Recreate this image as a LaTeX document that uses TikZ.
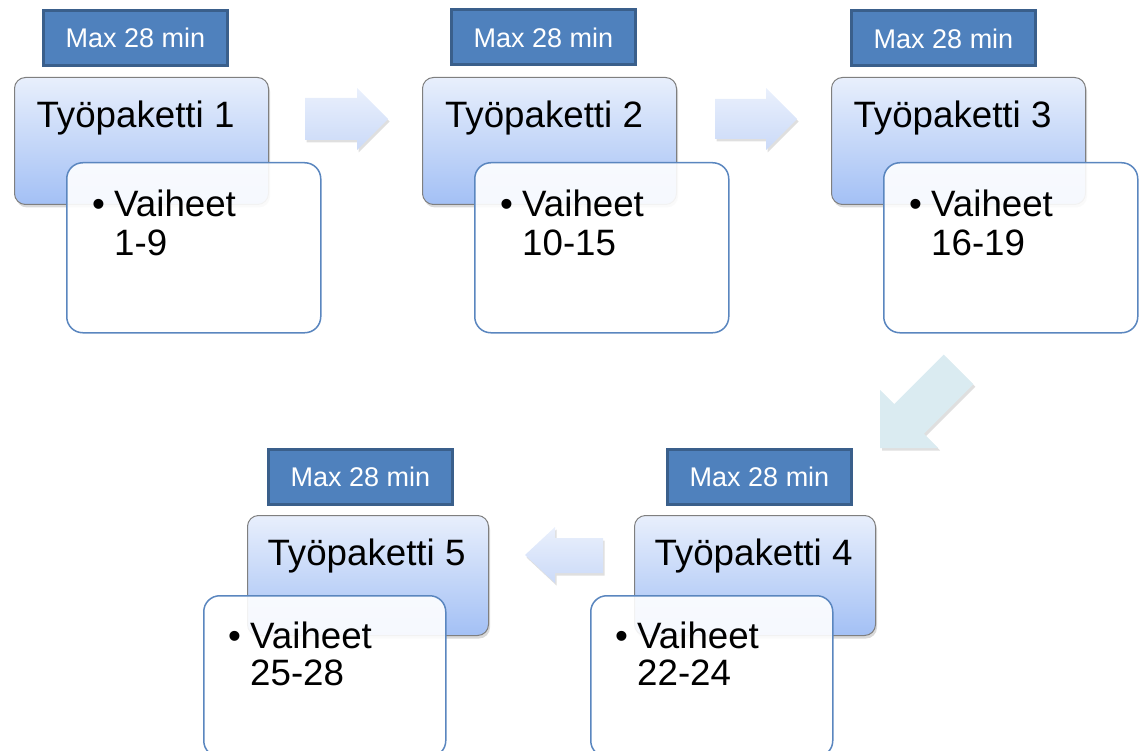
\documentclass[tikz,border=0pt]{standalone}
\usepackage{fontspec}
\setmainfont{Liberation Sans}
\usetikzlibrary{shadows}
\definecolor{maxfill}{HTML}{4F81BD}
\definecolor{maxline}{HTML}{3A5F8B}
\definecolor{titletop}{HTML}{E8EFFC}
\definecolor{titlebot}{HTML}{A3C0F5}
\definecolor{titleline}{HTML}{7F7F7F}
\definecolor{textline}{HTML}{5A86BF}
\definecolor{arrtop}{HTML}{EAF0FC}
\definecolor{arrbot}{HTML}{CBDAF8}
\definecolor{diagfill}{HTML}{DAEBF1}
\tikzset{
  maxbox/.style={draw=maxline, line width=3pt, fill=maxfill, text=white,
    minimum width=184pt, minimum height=55pt, inner sep=0pt,
    font=\fontsize{27}{32}\selectfont},
  titlebox/.style={draw=titleline, line width=1pt, rounded corners=11pt,
    top color=titletop, bottom color=titlebot, inner sep=0pt,
    drop shadow={shadow xshift=1.5pt, shadow yshift=-3pt, opacity=0.3}},
  wideT/.style={minimum width=254pt, minimum height=127pt},
  narrowT/.style={minimum width=241pt, minimum height=120pt},
  textbox/.style={draw=textline, line width=1.5pt, rounded corners=16pt,
    fill=white, fill opacity=0.9, inner sep=0pt},
  wideB/.style={minimum width=254pt, minimum height=170pt},
  narrowB/.style={minimum width=242pt, minimum height=161pt},
  titletext/.style={anchor=base, inner sep=0pt, font=\fontsize{36.7}{44}\selectfont},
  itemtext/.style={anchor=base west, inner sep=0pt, font=\fontsize{36.7}{44}\selectfont},
  blockarrow/.style={top color=arrtop, bottom color=arrbot, draw=none,
    drop shadow={shadow xshift=1.5pt, shadow yshift=-2.5pt, opacity=0.25}},
  diagarrow/.style={fill=diagfill, draw=none,
    drop shadow={shadow xshift=2pt, shadow yshift=-2.5pt, opacity=0.25}}
}
\begin{document}
\begin{tikzpicture}[x=1pt,y=-1pt]
\useasboundingbox (0,0) rectangle (1139,751);

% ---------- Block 1 ----------
\node[maxbox] (m1) at (135.5,38) {Max 28 min};
\node[titlebox, wideT, anchor=north west] (t1) at (14,77) {};
\node[titletext] (tt1) at (135.5,128) {Työpaketti 1};
\node[textbox, wideB, anchor=north west] (b1) at (66,162) {};
\node[itemtext] (p1) at (92,217) {•};
\node[itemtext] (v1) at (114,217) {Vaiheet};
\node[itemtext] (r1) at (114,255) {1-9};

% ---------- Block 2 ----------
\node[maxbox] (m2) at (543.5,37.5) {Max 28 min};
\node[titlebox, wideT, anchor=north west] (t2) at (422,77) {};
\node[titletext] (tt2) at (544,128) {Työpaketti 2};
\node[textbox, wideB, anchor=north west] (b2) at (474,162) {};
\node[itemtext] (p2) at (500,217) {•};
\node[itemtext] (v2) at (522,217) {Vaiheet};
\node[itemtext] (r2) at (522,255) {10-15};

% ---------- Block 3 ----------
\node[maxbox] (m3) at (943.5,38.5) {Max 28 min};
\node[titlebox, wideT, anchor=north west] (t3) at (831,77) {};
\node[titletext] (tt3) at (952.5,128) {Työpaketti 3};
\node[textbox, wideB, anchor=north west] (b3) at (883,162) {};
\node[itemtext] (p3) at (909,217) {•};
\node[itemtext] (v3) at (931,217) {Vaiheet};
\node[itemtext] (r3) at (931,255) {16-19};

% ---------- Block 4 ----------
\node[maxbox] (m4) at (759.5,477) {Max 28 min};
\node[titlebox, narrowT, anchor=north west] (t4) at (634,515) {};
\node[titletext] (tt4) at (753.5,565) {Työpaketti 4};
\node[textbox, narrowB, anchor=north west] (b4) at (590,595) {};
\node[itemtext] (p4) at (615,648) {•};
\node[itemtext] (v4) at (637,648) {Vaiheet};
\node[itemtext] (r4) at (637,685) {22-24};

% ---------- Block 5 ----------
\node[maxbox] (m5) at (360.5,477) {Max 28 min};
\node[titlebox, narrowT, anchor=north west] (t5) at (247,515) {};
\node[titletext] (tt5) at (366.5,565) {Työpaketti 5};
\node[textbox, narrowB, anchor=north west] (b5) at (203,595) {};
\node[itemtext] (p5) at (228,648) {•};
\node[itemtext] (v5) at (250,648) {Vaiheet};
\node[itemtext] (r5) at (250,685) {25-28};

% ---------- Arrows ----------
\path[blockarrow] (305,98) -- (357,98) -- (357,88) -- (388,119)
  -- (357,150) -- (357,140) -- (305,140) -- cycle;
\path[blockarrow] (715,99) -- (766,99) -- (766,88) -- (797,119)
  -- (766,150) -- (766,139) -- (715,139) -- cycle;
\path[diagarrow] (880,448) -- (938,448) -- (923.85,433.85) -- (973.35,384.35)
  -- (943.65,354.65) -- (894.15,404.15) -- (880,390) -- cycle;
\path[blockarrow] (603,538) -- (555,538) -- (555,527) -- (525,555)
  -- (555,583) -- (555,573) -- (603,573) -- cycle;
\end{tikzpicture}
\end{document}
